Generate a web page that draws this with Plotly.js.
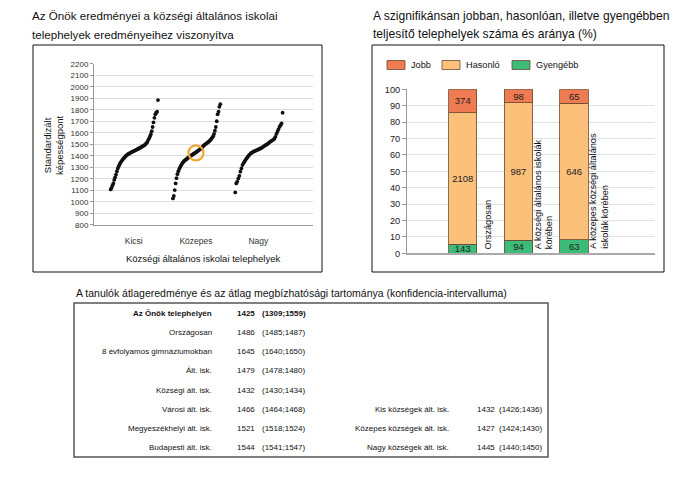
<!DOCTYPE html>
<html>
<head>
<meta charset="utf-8">
<script src="https://cdn.plot.ly/plotly-3.0.1.min.js"></script>
<style>html,body{margin:0;padding:0;background:#fff;}#chart{width:692px;height:489px;}</style>
</head>
<body>
<div id="chart"></div>
<script>
// ---------- DATA ----------
const categories = ['Kicsi', 'Közepes', 'Nagy'];
// sorted site results (standardised ability points)
const kicsiScores = [1107, 1120, 1140, 1159, 1190, 1212, 1236, 1264, 1290, 1308, 1325, 1339, 1351, 1362, 1372, 1381, 1389, 1398, 1406, 1411, 1416, 1420, 1425, 1429, 1433, 1438, 1441, 1445, 1449, 1453, 1457, 1461, 1465, 1469, 1474, 1479, 1484, 1488, 1493, 1501, 1509, 1519, 1536, 1551, 1568, 1588, 1614, 1650, 1690, 1730, 1760, 1775, 1783, 1884];
const kozepesScores = [1029, 1050, 1101, 1159, 1205, 1240, 1265, 1284, 1300, 1315, 1328, 1340, 1350, 1357, 1364, 1370, 1376, 1383, 1389, 1395, 1400, 1405, 1411, 1416, 1421, 1426, 1432, 1437, 1443, 1449, 1455, 1461, 1468, 1476, 1485, 1493, 1499, 1504, 1510, 1516, 1522, 1530, 1538, 1548, 1558, 1570, 1590, 1618, 1650, 1700, 1760, 1783, 1826, 1849];
const nagyScores = [1081, 1159, 1175, 1203, 1225, 1261, 1290, 1319, 1335, 1350, 1364, 1377, 1389, 1400, 1410, 1420, 1426, 1432, 1437, 1441, 1445, 1449, 1453, 1457, 1461, 1466, 1471, 1478, 1484, 1490, 1495, 1500, 1507, 1515, 1522, 1528, 1534, 1540, 1548, 1565, 1590, 1609, 1630, 1652, 1666, 1681, 1774];
const ownCategoryIndex = 2; // Közepes
const ownScore = 1425;

const barGroups = ['Országosan', 'A községi általános iskolák<br>körében', 'A közepes községi általános<br>iskolák körében'];
const seriesNames = ['Gyengébb', 'Hasonló', 'Jobb'];
const gyengebbCounts = [143, 94, 63];
const hasonloCounts = [2108, 987, 646];
const jobbCounts = [374, 98, 65];

const tableLabelsLeft = ['Az Önök telephelyén', 'Országosan', '8 évfolyamos gimnáziumokban', 'Ált. isk.', 'Községi ált. isk.', 'Városi ált. isk.', 'Megyeszékhelyi ált. isk.', 'Budapesti ált. isk.'];
const tableMeansLeft = [1425, 1486, 1645, 1479, 1432, 1466, 1521, 1544];
const tableLowLeft = [1309, 1485, 1640, 1478, 1430, 1464, 1518, 1541];
const tableHighLeft = [1559, 1487, 1650, 1480, 1434, 1468, 1524, 1547];
const tableLabelsRight = ['Kis községek ált. isk.', 'Közepes községek ált. isk.', 'Nagy községek ált. isk.'];
const tableMeansRight = [1432, 1427, 1445];
const tableLowRight = [1426, 1424, 1440];
const tableHighRight = [1436, 1430, 1450];
const tableRightStartRow = 5;

// ---------- LAYOUT HELPERS ----------
const W = 692, H = 489;
const px = x => x / W;
const py = y => 1 - y / H;
const FONT = 'Liberation Sans, Arial, sans-serif';
const colors = {Gyengébb: '#3dbb78', Hasonló: '#fbc07a', Jobb: '#ee7b52'};

// ---------- TRACES ----------
const traces = [];
[kicsiScores, kozepesScores, nagyScores].forEach((arr, c) => {
  const n = arr.length;
  traces.push({
    type: 'scatter', mode: 'markers', xaxis: 'x', yaxis: 'y',
    x: arr.map((_, i) => (c + 1) - 0.37 + 0.76 * i / (n - 1)),
    y: arr,
    marker: {size: 3.8, color: '#111', line: {width: 0}},
    hoverinfo: 'skip', showlegend: false
  });
});
traces.push({
  type: 'scatter', mode: 'markers', xaxis: 'x', yaxis: 'y',
  x: [ownCategoryIndex], y: [ownScore],
  marker: {symbol: 'circle-open', size: 15, color: '#f2a531', line: {width: 2.2, color: '#f2a531'}},
  hoverinfo: 'skip', showlegend: false
});

const countsBySeries = {Gyengébb: gyengebbCounts, Hasonló: hasonloCounts, Jobb: jobbCounts};
const totals = gyengebbCounts.map((g, i) => g + hasonloCounts[i] + jobbCounts[i]);
seriesNames.forEach(name => {
  const counts = countsBySeries[name];
  traces.push({
    type: 'bar', xaxis: 'x2', yaxis: 'y2', name: name,
    x: [1, 2, 3],
    y: counts.map((v, i) => 100 * v / totals[i]),
    width: 0.51,
    text: counts.map(String),
    textposition: 'inside', insidetextanchor: 'middle', constraintext: 'none', textangle: 0,
    textfont: {family: FONT, size: 9.5, color: '#222'},
    marker: {color: colors[name], line: {color: '#6a4a30', width: 0.8}},
    hoverinfo: 'skip', showlegend: false
  });
});

// ---------- ANNOTATIONS / SHAPES ----------
const ann = [];
const txt = (x, y, text, size, opts) => Object.assign({
  xref: 'paper', yref: 'paper', x: px(x), y: py(y), text: text, showarrow: false,
  xanchor: 'left', yanchor: 'middle', font: {family: FONT, size: size, color: '#111'}
}, opts || {});

ann.push(txt(30, 16, 'Az Önök eredményei a községi általános iskolai', 11.6));
ann.push(txt(30, 34, 'telephelyek eredményeihez viszonyítva', 11.6));
ann.push(txt(371, 16, 'A szignifikánsan jobban, hasonlóan, illetve gyengébben', 12.1));
ann.push(txt(371, 34, 'teljesítő telephelyek száma és aránya (%)', 12.1));
ann.push(txt(74, 293, 'A tanulók átlageredménye és az átlag megbízhatósági tartománya (konfidencia-intervalluma)', 10.5));

// left chart axis titles
ann.push(txt(203, 258, 'Községi általános iskolai telephelyek', 9.5, {xanchor: 'center'}));
ann.push(txt(53, 145, 'Standardizált<br>képességpont', 9.5, {xanchor: 'center', textangle: -90}));

// right chart group labels
barGroups.forEach((g, i) => {
  ann.push({
    xref: 'x2', yref: 'y2', x: i + 1.5, y: 0, text: g, showarrow: false, textangle: -90,
    xanchor: 'center', yanchor: 'bottom', align: 'left', xshift: -2.5, yshift: 2,
    font: {family: FONT, size: 9.2, color: '#111'}
  });
});

// custom legend
const shapes = [];
const legendOrder = ['Jobb', 'Hasonló', 'Gyengébb'];
const legendX = [387, 442, 512];
legendOrder.forEach((name, i) => {
  shapes.push({type: 'rect', xref: 'paper', yref: 'paper', x0: px(legendX[i]), x1: px(legendX[i] + 18), y0: py(69.5), y1: py(60.5),
    fillcolor: colors[name], line: {color: '#6a4a30', width: 0.8}});
  ann.push(txt(legendX[i] + 22, 65, name, 9.2));
});

// table
const rowY = i => 313.3 + 19.2 * i;
tableLabelsLeft.forEach((lab, i) => {
  const b = s => i === 0 ? '<b>' + s + '</b>' : s;
  ann.push(txt(213.5, rowY(i), b(lab), 8, {xanchor: 'right'}));
  ann.push(txt(234.5, rowY(i), b(String(tableMeansLeft[i])), 8));
  ann.push(txt(259.5, rowY(i), b('(' + tableLowLeft[i] + ';' + tableHighLeft[i] + ')'), 8));
});
tableLabelsRight.forEach((lab, j) => {
  const i = tableRightStartRow + j;
  ann.push(txt(451, rowY(i), lab, 8, {xanchor: 'right'}));
  ann.push(txt(475, rowY(i), String(tableMeansRight[j]), 8));
  ann.push(txt(496.5, rowY(i), '(' + tableLowRight[j] + ';' + tableHighRight[j] + ')', 8));
});

// panel frames
shapes.push({type: 'rect', xref: 'paper', yref: 'paper', x0: px(33), x1: px(322), y0: py(272), y1: py(45), line: {color: '#111', width: 1}});
shapes.push({type: 'rect', xref: 'paper', yref: 'paper', x0: px(372), x1: px(664), y0: py(272), y1: py(45), line: {color: '#111', width: 1}});
shapes.push({type: 'rect', xref: 'paper', yref: 'paper', x0: px(74), x1: px(548), y0: py(457), y1: py(303), line: {color: '#555', width: 1.5}});

const layout = {
  width: W, height: H,
  margin: {l: 0, r: 0, t: 0, b: 0},
  paper_bgcolor: '#fff', plot_bgcolor: 'rgba(0,0,0,0)',
  showlegend: false,
  font: {family: FONT, color: '#222'},
  barmode: 'stack',
  xaxis: {
    domain: [px(94), px(313)], range: [0.363, 3.878], anchor: 'y',
    tickmode: 'array', tickvals: [1, 2, 3], ticktext: categories,
    showgrid: false, zeroline: false, showline: true, linecolor: '#999', linewidth: 1,
    ticks: 'outside', ticklen: 8, tickcolor: 'rgba(0,0,0,0)',
    tickfont: {family: FONT, size: 8.5, color: '#333'}, fixedrange: true
  },
  yaxis: {
    domain: [py(224.7), py(63.8)], range: [800, 2200], anchor: 'x',
    dtick: 100, tick0: 800, gridcolor: '#dedede', gridwidth: 1,
    zeroline: false, showline: true, linecolor: '#999', linewidth: 1,
    ticks: 'outside', ticklen: 3, tickcolor: '#999',
    tickfont: {family: FONT, size: 8, color: '#333'}, fixedrange: true
  },
  xaxis2: {
    domain: [px(407), px(655)], range: [0, 4.45], anchor: 'y2',
    showticklabels: false, showgrid: false, zeroline: false,
    showline: true, linecolor: '#aaa', linewidth: 2, ticks: '', fixedrange: true
  },
  yaxis2: {
    domain: [py(253.3), py(89.3)], range: [0, 100], anchor: 'x2',
    dtick: 10, tick0: 0, gridcolor: '#e2e2e2', gridwidth: 1,
    zeroline: false, showline: true, linecolor: '#999', linewidth: 1,
    ticks: 'outside', ticklen: 4, tickcolor: '#999',
    tickfont: {family: FONT, size: 9.2, color: '#222'}, fixedrange: true
  },
  annotations: ann,
  shapes: shapes
};

Plotly.newPlot('chart', traces, layout, {staticPlot: true, displayModeBar: false});
</script>
</body>
</html>
